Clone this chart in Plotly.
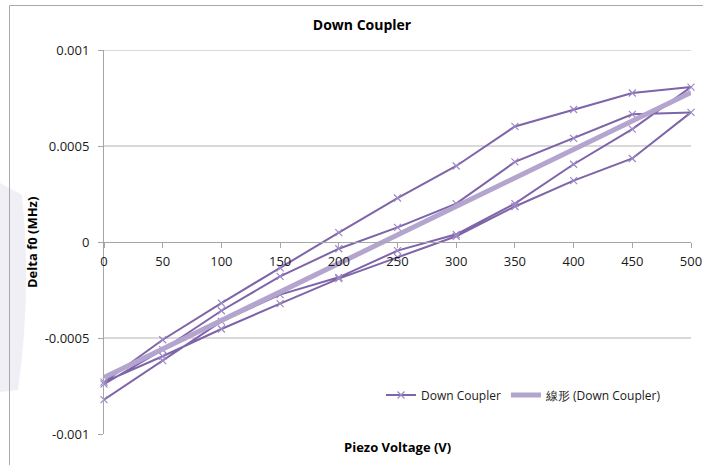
import numpy as np
import plotly.graph_objects as go

# ---- data ----
volt_up_1 = [0, 50, 100, 150, 200, 250, 300, 350, 400, 450, 500]
df_up_1 = [-0.000821, -0.000618, -0.000413, -0.000274, -0.000184, -0.000045,
           0.000040, 0.000200, 0.000405, 0.000588, 0.000807]

volt_down_1 = [450, 400, 350, 300, 250, 200, 150, 100, 50, 0]
df_down_1 = [0.000776, 0.000690, 0.000602, 0.000396, 0.000229, 0.000049,
             -0.000135, -0.000318, -0.000509, -0.000730]

volt_up_2 = [50, 100, 150, 200, 250, 300, 350, 400, 450, 500]
df_up_2 = [-0.000595, -0.000453, -0.000321, -0.000191, -0.000080, 0.000030,
           0.000185, 0.000320, 0.000435, 0.000675]

volt_down_2 = [450, 400, 350, 300, 250, 200, 150, 100, 50, 0]
df_down_2 = [0.000665, 0.000540, 0.000417, 0.000200, 0.000076, -0.000035,
             -0.000179, -0.000358, -0.000561, -0.000740]

x_tick_vals = [0, 50, 100, 150, 200, 250, 300, 350, 400, 450, 500]
y_tick_vals = [-0.001, -0.0005, 0, 0.0005, 0.001]
y_tick_text = ["-0.001", "-0.0005", "0", "0.0005", "0.001"]
grid_vals = [-0.0005, 0.0005, 0.001]

series_name = "Down Coupler"
trend_name = "線形 (Down Coupler)"

# ---- build ----
volts = volt_up_1 + volt_down_1 + volt_up_2 + volt_down_2
dfs = df_up_1 + df_down_1 + df_up_2 + df_down_2

slope, intercept = np.polyfit(volts, dfs, 1)
trend_x = [min(x_tick_vals), max(x_tick_vals)]
trend_y = [slope * v + intercept for v in trend_x]

FONT = "Open Sans"
W, H = 703, 465
L, R, T, B = 104, 691, 50, 434  # plot area in pixels


def px(xp):
    return (xp - L) / (R - L)


def py(yp):
    return (B - yp) / (B - T)


fig = go.Figure()
fig.add_trace(go.Scatter(
    x=volts, y=dfs, mode="lines+markers", name=series_name,
    line=dict(color="#7E64A8", width=2),
    marker=dict(symbol="x-thin", size=7, line=dict(color="#9D88C4", width=1.2),
                color="#9D88C4"),
    cliponaxis=False,
))
fig.add_trace(go.Scatter(
    x=trend_x, y=trend_y, mode="lines", name=trend_name,
    line=dict(color="#B4A5CF", width=5),
    cliponaxis=False,
))

shapes = []
for g in grid_vals:
    shapes.append(dict(type="line", xref="x", yref="y", x0=0, x1=500, y0=g, y1=g,
                       line=dict(color="#B3B3B3", width=1), layer="below"))
# chart-area frame (partly visible)
shapes.append(dict(type="line", xref="paper", yref="paper", x0=px(9.5), x1=px(9.5),
                   y0=py(5.5), y1=py(470), line=dict(color="#A9A9A9", width=1)))
shapes.append(dict(type="line", xref="paper", yref="paper", x0=px(9.5), x1=px(710),
                   y0=py(5.5), y1=py(5.5), line=dict(color="#A9A9A9", width=1)))
# faint background blob on the far left
path = "M {} {} L {} {} Q {} {} {} {} L {} {} Z".format(
    px(0), py(183), px(22), py(195), px(32), py(290), px(18), py(390), px(0), py(392))
shapes.append(dict(type="path", xref="paper", yref="paper", path=path,
                   fillcolor="#F0EFF5", line=dict(width=0), layer="below"))

fig.update_layout(
    template="none",
    width=W, height=H,
    autosize=False,
    margin=dict(l=L, r=W - R, t=T, b=H - B, pad=0, autoexpand=False),
    paper_bgcolor="white", plot_bgcolor="white",
    font=dict(family=FONT, size=13, color="#1a1a1a"),
    title=dict(text="Down Coupler", x=362 / W, xanchor="center", xref="container",
               y=1 - 25 / H, yanchor="middle", yref="container",
               font=dict(family=FONT, size=14, weight="bold", color="#000")),
    showlegend=True,
    legend=dict(orientation="h", x=px(381), y=py(395), xanchor="left", yanchor="middle",
                bgcolor="rgba(0,0,0,0)", font=dict(family=FONT, size=12, color="#1a1a1a"),
                traceorder="normal"),
    xaxis=dict(range=[0, 500], anchor="free", position=0.5, showline=True,
               linecolor="#A6A6A6", linewidth=1, ticks="outside", ticklen=5,
               tickcolor="#A6A6A6", tickvals=x_tick_vals, showgrid=False,
               zeroline=False, tickfont=dict(size=13), ticklabelstandoff=2,
               automargin=False),
    yaxis=dict(range=[-0.001, 0.001], showline=True, linecolor="#A6A6A6", linewidth=1,
               ticks="outside", ticklen=5, tickcolor="#A6A6A6",
               tickvals=y_tick_vals, ticktext=y_tick_text, showgrid=False,
               zeroline=False, tickfont=dict(size=13), ticklabelstandoff=6,
               automargin=False),
    shapes=shapes,
    annotations=[
        dict(text="Delta f0 (MHz)", xref="paper", yref="paper", x=px(32), y=py(243),
             textangle=-90, showarrow=False, xanchor="center", yanchor="middle",
             font=dict(family=FONT, size=13, weight="bold", color="#000")),
        dict(text="Piezo Voltage (V)", xref="paper", yref="paper", x=px(398), y=py(447),
             showarrow=False, xanchor="center", yanchor="middle",
             font=dict(family=FONT, size=13, weight="bold", color="#000")),
    ],
)

fig.write_html("out.html",
               config={"displayModeBar": False},
               post_script="document.body.style.margin='0';document.body.style.overflow='hidden';")
